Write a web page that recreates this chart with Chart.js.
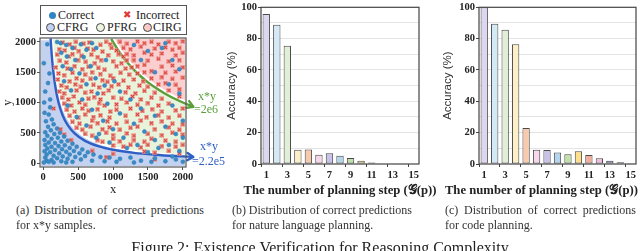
<!DOCTYPE html>
<html>
<head>
<meta charset="utf-8">
<script src="https://cdn.jsdelivr.net/npm/chart.js@4.4.0/dist/chart.umd.min.js"></script>
<style>
  body { margin: 0; width: 640px; height: 251px; background: #fff; position: relative; overflow: hidden; font-family: 'Liberation Serif', serif; color: #222; }
  .box { position: absolute; }
  #legendBox { position: absolute; left: 40px; top: 5px; width: 145px; height: 28px; border: 1px solid #555; background: #fff; }
  .lt { position: absolute; font-size: 12px; line-height: 12px; white-space: nowrap; }
  .mk { position: absolute; border-radius: 50%; box-sizing: border-box; }
  .note { position: absolute; font-size: 12px; line-height: 13px; white-space: nowrap; }
  .xt { position: absolute; top: 183px; width: 200px; font-size: 12.7px; font-weight: bold; line-height: 14px; white-space: nowrap; color: #222; }
  .cap { position: absolute; font-size: 12px; line-height: 15px; color: #333; white-space: nowrap; }
  #figCap { position: absolute; left: 0; width: 640px; top: 240px; text-align: center; font-size: 16px; line-height: 16px; color: #222; white-space: nowrap; }
</style>
</head>
<body>
<div class="box" style="left:0;top:0;width:232px;height:200px"><canvas id="xyChart"></canvas></div>
<div class="box" style="left:214px;top:0;width:216px;height:200px"><canvas id="nlChart"></canvas></div>
<div class="box" style="left:430px;top:0;width:210px;height:200px"><canvas id="codeChart"></canvas></div>

<div id="legendBox">
  <span class="mk" style="left:8px;top:6px;width:7px;height:7px;background:#2f84c4"></span>
  <span class="lt" style="left:17px;top:3px">Correct</span>
  <span class="lt" style="left:82px;top:3px;color:#e03a35;font-family:'DejaVu Sans';font-size:10px">✖</span>
  <span class="lt" style="left:95px;top:3px">Incorrect</span>
  <span class="mk" style="left:5px;top:17px;width:9px;height:9px;background:#c3d2f0;border:1px solid #444"></span>
  <span class="lt" style="left:16px;top:15px">CFRG</span>
  <span class="mk" style="left:55px;top:17px;width:9px;height:9px;background:#eef5e2;border:1px solid #444"></span>
  <span class="lt" style="left:66px;top:15px">PFRG</span>
  <span class="mk" style="left:102px;top:17px;width:9px;height:9px;background:#f8caca;border:1px solid #444"></span>
  <span class="lt" style="left:112px;top:15px">CIRG</span>
</div>

<div class="note" style="left:198px;top:90px;color:#5a9e3c">x*y</div>
<div class="note" style="left:194px;top:103px;color:#5a9e3c">=2e6</div>
<div class="note" style="left:200px;top:140px;color:#2f5fc4">x*y</div>
<div class="note" style="left:192px;top:155px;color:#2f5fc4">=2.2e5</div>

<div class="xt" style="left:240px;text-align:center">The number of planning step (𝒢(p))</div>
<div class="xt" style="left:438px;text-align:right">The number of planning step (𝒢(p))</div>

<div class="cap fit" data-w="188" style="left:16px;top:203px">(a) Distribution of correct predictions</div>
<div class="cap" style="left:16px;top:218px">for x*y samples.</div>
<div class="cap fit" data-w="180" style="left:232px;top:203px">(b) Distribution of correct predictions</div>
<div class="cap" style="left:232px;top:218px">for nature language planning.</div>
<div class="cap fit" data-w="191" style="left:445px;top:203px">(c) Distribution of correct predictions</div>
<div class="cap" style="left:445px;top:218px">for code planning.</div>
<div id="figCap">Figure 2: Existence Verification for Reasoning Complexity</div>

<script>
// ---- panel (a) data ----
const xyTicks = [0, 500, 1000, 1500, 2000];

const correctPts = [
  // CFRG
  [60,1960],[90,1480],[30,1180],[100,1050],[20,830],[80,800],[125,720],[40,690],[150,640],[70,600],
  [200,570],[110,540],[30,510],[240,500],[160,480],[60,450],[300,440],[210,420],[120,400],[20,380],
  [350,370],[260,355],[80,340],[170,330],[420,320],[30,300],[310,295],[220,280],[120,270],[480,270],
  [380,250],[60,240],[270,230],[170,215],[560,225],[20,195],[440,200],[330,185],[100,180],[640,180],
  [230,160],[520,160],[380,140],[50,140],[150,120],[720,140],[280,110],[600,115],[460,100],[30,90],
  [820,100],[200,80],[350,70],[120,50],[950,90],[540,60],[50,40],[260,30],[700,40],[1100,70],
  [420,20],[150,10],[880,30],[1250,90],[1050,20],[1400,40],[1600,80],[1750,30],[1900,60],[2000,20],
  [1300,10],[1550,20],[1850,110],[10,10],[80,20],[330,10],[10,1650],[70,1320],[15,1000],[100,920],
  // PFRG
  [200,2000],[250,1980],[330,1950],[420,1900],[540,1960],[620,1870],[700,1980],[760,1900],[260,1820],[340,1760],
  [460,1700],[580,1750],[280,1600],[400,1550],[680,1600],[900,1700],[520,1480],[750,1400],[300,1350],[620,1300],
  [880,1280],[1020,1350],[400,1200],[780,1150],[1100,1180],[1250,1050],[560,1050],[920,980],[350,950],[1400,900],
  [700,880],[1100,820],[480,760],[1600,780],[860,700],[1300,650],[620,620],[1000,560],[1750,600],[1450,520],
  [800,480],[1900,480],[1150,420],[1600,380],[2000,420],[1350,300],[1800,300],[950,340],[1650,250],[1950,200],
  [1200,250],[1500,180],[760,420],[2000,700],[1850,950],
  // CIRG
  [1300,1950],[1500,1850],[1700,1900],[1850,1700],[1950,1550],[1600,1500],[1400,1700],[1800,1300],[1750,1980],[1950,1150]
];

const incorrectPts = [
  [280,1990],[380,1960],[470,2000],[580,1970],[660,1990],[820,1950],[900,2000],[960,1960],
  [230,1880],[310,1860],[450,1900],[510,1850],[640,1890],[720,1870],[850,1840],[980,1900],[1050,1860],
  [200,1790],[370,1760],[420,1800],[550,1770],[690,1790],[780,1750],[930,1780],[1080,1800],[1150,1760],
  [240,1690],[330,1660],[500,1700],[610,1670],[740,1650],[830,1700],[1000,1680],[1120,1650],[1200,1700],
  [180,1580],[350,1560],[450,1600],[560,1550],[650,1590],[790,1570],[880,1540],[1050,1600],[1180,1560],[1270,1580],
  [220,1480],[300,1450],[420,1490],[600,1460],[700,1500],[820,1470],[960,1440],[1110,1490],[1230,1460],[1350,1480],
  [210,1380],[380,1350],[480,1400],[560,1360],[680,1390],[850,1370],[920,1340],[1000,1400],[1150,1360],[1300,1380],[1430,1350],
  [260,1280],[340,1250],[460,1300],[540,1260],[720,1290],[800,1250],[980,1270],[1080,1300],[1220,1250],[1380,1280],[1500,1260],
  [230,1180],[300,1150],[480,1200],[600,1160],[690,1180],[860,1150],[940,1200],[1180,1170],[1320,1150],[1450,1190],[1600,1160],
  [270,1080],[360,1050],[440,1100],[650,1060],[730,1090],[820,1050],[1000,1080],[1120,1060],[1280,1100],[1400,1050],[1550,1080],[1700,1060],
  [300,980],[400,950],[520,1000],[600,960],[800,990],[880,950],[1050,970],[1200,1000],[1350,960],[1500,990],[1650,950],[1800,980],
  [340,880],[450,850],[560,900],[650,860],[780,890],[960,850],[1050,880],[1250,900],[1420,860],[1560,890],[1700,850],[1900,870],[2000,900],
  [380,780],[500,750],[600,800],[720,760],[820,790],[950,750],[1180,780],[1350,800],[1480,760],[1650,790],[1800,750],[1950,780],
  [420,680],[520,650],[700,700],[780,660],[920,690],[1050,650],[1200,680],[1400,700],[1550,660],[1700,690],[1850,650],[2000,640],
  [480,580],[560,550],[680,600],[850,560],[950,590],[1100,550],[1250,580],[1350,600],[1600,560],[1800,590],[1950,550],
  [600,480],[700,450],[900,500],[1000,460],[1200,490],[1300,450],[1500,480],[1700,460],[1850,500],[2000,470],
  [780,380],[850,350],[1000,400],[1100,360],[1300,380],[1450,350],[1550,400],[1750,370],[1900,350],
  [1000,290],[1150,270],[1250,300],[1400,260],[1500,300],[1700,280],[1900,270],[2000,300],
  [1450,190],[1600,170],[1800,200],[1950,160],
  [150,900],[250,560],[400,380],[700,200],[1000,150],[1600,60],[300,470],[900,100],
  // CIRG
  [1100,2000],[1200,1970],[1350,2010],[1450,1980],[1550,2000],[1650,1960],[1800,2000],[1900,1980],[2000,2010],
  [1150,1900],[1250,1880],[1400,1920],[1600,1890],[1750,1910],[1850,1870],[1950,1900],
  [1200,1800],[1300,1780],[1450,1820],[1550,1790],[1700,1810],[1900,1780],[2000,1820],
  [1300,1700],[1500,1690],[1650,1720],[1800,1680],[1950,1700],
  [1350,1600],[1450,1620],[1700,1590],[1850,1610],[2000,1580],
  [1450,1500],[1550,1520],[1750,1490],[1900,1510],
  [1550,1400],[1700,1420],[1850,1390],[2000,1410],
  [1650,1300],[1750,1320],[1900,1290],
  [1800,1200],[1950,1220],[1950,1100]
];

// region edges and boundary curves
const pfrgBox = [[-30,2045],[2030,2045]];
const cfrgEdge = [[-30,2045],[127,2045],[140,1857],[160,1625],[200,1300],[250,1040],[300,867],[400,650],
  [500,520],[600,433],[800,325],[1000,260],[1200,217],[1500,173],[1800,144],[2030,128]];
const cirgEdge = [[1010,2050],[1100,1882],[1200,1725],[1300,1592],[1400,1479],[1500,1380],[1600,1294],
  [1700,1218],[1800,1150],[1900,1089],[2030,1020]];
const lowCurve = [[107,2060],[115,1913],[130,1692],[150,1467],[180,1222],[220,1000],[280,786],[350,629],
  [450,489],[600,367],[800,275],[1000,220],[1300,169],[1600,138],[1900,116],[2150,102]];
const highCurve = [[975,2050],[1000,2000],[1100,1818],[1200,1667],[1300,1538],[1400,1429],[1500,1333],
  [1600,1250],[1700,1176],[1800,1111],[1900,1053],[2000,1000],[2150,930]];

// ---- panels (b) and (c) data ----
const steps = ['1','2','3','4','5','6','7','8','9','10','11','12','13','14','15'];
const nlAccuracy = [95.8, 88.8, 75.4, 9.1, 9.3, 5.9, 6.9, 5.3, 3.8, 2.1, 0.9, 0.3, 0, 0.3, 0];
const codeAccuracy = [100, 89.5, 85.7, 76.4, 23, 9.1, 8.9, 7.4, 6.3, 8.2, 5.7, 3.6, 2.1, 1.1, 0.4];
const accTicks = [0, 20, 40, 60, 80, 100];
const barColors = ['#dcd6f0','#d3e9f5','#e0efd6','#fdf0c6','#f7caad','#f8d6ec','#c9c2e8','#b3d6ef',
  '#c2e0aa','#ffe08a','#f2ad9b','#f2bcdf','#8087c6','#a2cbe8','#6da752'];

const toXY = pts => pts.map(p => ({x: p[0], y: p[1]}));

// stretch the first caption lines to their column width (justified look)
document.querySelectorAll('.cap.fit').forEach(el => {
  const gaps = el.textContent.split(' ').length - 1;
  const extra = (+el.dataset.w - el.getBoundingClientRect().width) / gaps;
  el.style.wordSpacing = extra + 'px';
});

// red cross with a pale box, like the reference marker
const xMark = document.createElement('canvas');
xMark.width = 5; xMark.height = 5;
(function () {
  const c = xMark.getContext('2d');
  c.fillStyle = 'rgba(240,175,165,0.6)';
  c.fillRect(0, 0, 5, 5);
  c.strokeStyle = '#d8352f';
  c.lineWidth = 1.1;
  c.beginPath();
  c.moveTo(0.8, 0.8); c.lineTo(4.2, 4.2);
  c.moveTo(4.2, 0.8); c.lineTo(0.8, 4.2);
  c.stroke();
})();

const framePlugin = {
  id: 'frame',
  afterDraw(chart, args, opts) {
    const {ctx, chartArea: a} = chart;
    ctx.save();
    ctx.strokeStyle = opts.color || '#555';
    ctx.lineWidth = opts.width || 1;
    ctx.strokeRect(a.left, a.top, a.right - a.left, a.bottom - a.top);
    ctx.restore();
  }
};

const arrowPlugin = {
  id: 'arrowHeads',
  afterDatasetsDraw(chart) {
    const ctx = chart.ctx;
    chart.data.datasets.forEach((ds, i) => {
      if (!ds.arrowHead) return;
      const pts = chart.getDatasetMeta(i).data;
      const p = pts[pts.length - 1], q = pts[pts.length - 2];
      const ang = Math.atan2(p.y - q.y, p.x - q.x);
      ctx.save();
      ctx.strokeStyle = ds.borderColor;
      ctx.lineWidth = ds.borderWidth;
      ctx.lineCap = 'round';
      ctx.lineJoin = 'round';
      ctx.beginPath();
      ctx.moveTo(p.x - 7 * Math.cos(ang - 0.55), p.y - 7 * Math.sin(ang - 0.55));
      ctx.lineTo(p.x, p.y);
      ctx.lineTo(p.x - 7 * Math.cos(ang + 0.55), p.y - 7 * Math.sin(ang + 0.55));
      ctx.stroke();
      ctx.restore();
    });
  }
};

const serif = 'Liberation Serif';

new Chart(document.getElementById('xyChart'), {
  type: 'scatter',
  data: {
    datasets: [
      { data: toXY(correctPts), order: 0, pointRadius: 2, backgroundColor: '#3a8cc6', borderColor: '#2f78b0', borderWidth: 0.5 },
      { data: toXY(incorrectPts), order: 1, pointStyle: xMark },
      { data: toXY(lowCurve), order: 2, showLine: true, pointRadius: 0, borderColor: '#2f5fc4', borderWidth: 2.4,
        cubicInterpolationMode: 'monotone', clip: false, arrowHead: true },
      { data: toXY(highCurve), order: 2, showLine: true, pointRadius: 0, borderColor: '#5a9e3c', borderWidth: 2.4,
        cubicInterpolationMode: 'monotone', clip: false, arrowHead: true },
      { data: toXY(cfrgEdge), order: 3, showLine: true, pointRadius: 0, borderColor: '#fff', borderWidth: 2,
        cubicInterpolationMode: 'monotone', fill: {value: -50}, backgroundColor: '#c3d2f0' },
      { data: toXY(cirgEdge), order: 3, showLine: true, pointRadius: 0, borderColor: '#fff', borderWidth: 2,
        cubicInterpolationMode: 'monotone', fill: {value: 2045}, backgroundColor: '#fbcfcf' },
      { data: toXY(pfrgBox), order: 4, showLine: true, pointRadius: 0, borderWidth: 0,
        fill: {value: -50}, backgroundColor: '#e8f3dc' }
    ]
  },
  options: {
    responsive: true, maintainAspectRatio: false, animation: false, events: [],
    layout: { padding: { left: 0, right: 46, top: 38, bottom: 0 } },
    plugins: { legend: { display: false }, tooltip: { enabled: false }, frame: { color: '#555', width: 1.2 } },
    scales: {
      x: {
        type: 'linear', min: -45, max: 2045,
        afterBuildTicks: s => { s.ticks = xyTicks.map(v => ({ value: v })); },
        afterFit: s => { s.height = 33; },
        grid: { drawOnChartArea: false, tickLength: 3, color: '#555' },
        border: { display: false },
        ticks: { font: { family: serif, size: 10.5, weight: 'bold' }, color: '#222', padding: 1, maxRotation: 0, callback: v => String(v) },
        title: { display: true, text: 'x', font: { family: serif, size: 12.5 }, color: '#222', padding: { top: 0, bottom: 3 } }
      },
      y: {
        type: 'linear', min: -65, max: 2065,
        afterBuildTicks: s => { s.ticks = xyTicks.map(v => ({ value: v })); },
        afterFit: s => { s.width = 40; },
        grid: { drawOnChartArea: false, tickLength: 3, color: '#555' },
        border: { display: false },
        ticks: { font: { family: serif, size: 10.5, weight: 'bold' }, color: '#222', padding: 1, callback: v => String(v) },
        title: { display: true, text: 'y', font: { family: serif, size: 12.5 }, color: '#222', padding: { top: 0, bottom: 0 } }
      }
    }
  },
  plugins: [framePlugin, arrowPlugin]
});

function barChart(id, values, leftWidth, rightPad) {
  return new Chart(document.getElementById(id), {
    type: 'bar',
    data: {
      labels: steps,
      datasets: [{
        data: values,
        backgroundColor: barColors,
        borderColor: '#4a4a4a',
        borderWidth: 1,
        borderSkipped: false,
        barPercentage: 0.7,
        categoryPercentage: 1
      }]
    },
    options: {
      responsive: true, maintainAspectRatio: false, animation: false, events: [],
      layout: { padding: { left: 0, right: rightPad, top: 5, bottom: 0 } },
      plugins: { legend: { display: false }, tooltip: { enabled: false }, frame: { color: '#444', width: 1.2 } },
      scales: {
        x: {
          afterFit: s => { s.height = 36; },
          grid: { drawOnChartArea: false, tickLength: 3, tickColor: c => (c.index % 2 === 0 ? '#444' : 'rgba(0,0,0,0)') },
          border: { display: false },
          ticks: { autoSkip: false, maxRotation: 0, padding: 2, font: { family: serif, size: 10.5, weight: 'bold' }, color: '#222',
            callback: (v, i) => (i % 2 === 0 ? steps[i] : '') }
        },
        y: {
          min: 0, max: 100,
          afterBuildTicks: s => { s.ticks = [0,10,20,30,40,50,60,70,80,90,100].map(v => ({ value: v })); },
          afterFit: s => { s.width = leftWidth; },
          grid: {
            color: c => (c.tick.value === 0 || c.tick.value === 100 ? 'rgba(0,0,0,0)' : '#e4e4e4'),
            tickColor: c => (accTicks.includes(c.tick.value) ? '#444' : 'rgba(0,0,0,0)'),
            tickLength: 3
          },
          border: { display: false },
          ticks: { padding: 1, font: { family: serif, size: 10.5, weight: 'bold' }, color: '#222',
            callback: v => (accTicks.includes(v) ? String(v) : '') },
          title: { display: true, text: 'Accuracy (%)', color: '#333',
            font: { family: 'Liberation Sans', size: 11.5 }, padding: { top: 11, bottom: 0 } }
        }
      }
    },
    plugins: [framePlugin]
  });
}

barChart('nlChart', nlAccuracy, 47, 11);
barChart('codeChart', codeAccuracy, 49, 4);
</script>
</body>
</html>
